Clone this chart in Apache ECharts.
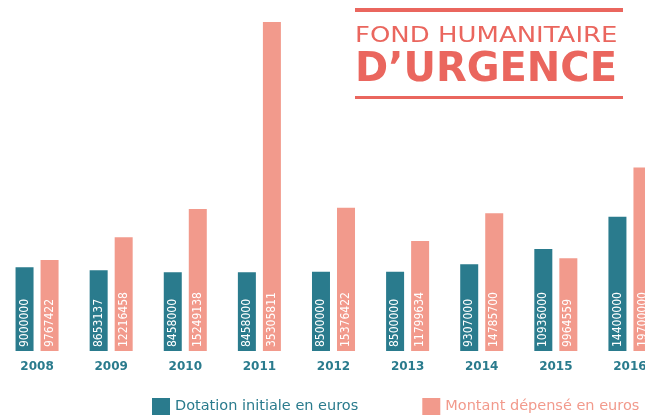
<!DOCTYPE html>
<html><head><meta charset="utf-8">
<script src="https://cdn.jsdelivr.net/npm/echarts@6/dist/echarts.min.js"></script>
<style>html,body{margin:0;padding:0;background:#fff;overflow:hidden}#c{width:667px;height:417px}</style>
</head><body><div id="c"></div>
<script>
const years = ['2008','2009','2010','2011','2012','2013','2014','2015','2016'];
const dotation = [9000000, 8653137, 8458000, 8458000, 8500000, 8500000, 9307000, 10936000, 14400000];
const depense = [9767422, 12216458, 15249138, 35305811, 15376422, 11799634, 14785700, 9964559, 19700000];
const seriesNames = ['Dotation initiale en euros', 'Montant dépensé en euros'];
const TEAL = '#2a7b8d', SALMON = '#f29a8c', RED = '#ea665e';

const chart = echarts.init(document.getElementById('c'), null, {renderer:'canvas'});
const lbl = {show:true, position:'insideBottom', rotate:90, align:'left', verticalAlign:'middle', distance:4,
  color:'#fff', fontSize:12, fontFamily:'DejaVu Sans Condensed, DejaVu Sans', formatter: p => String(p.value)};
chart.setOption({
  animation:false,
  grid:{left:0, right:0, top:22, bottom:66, containLabel:false},
  xAxis:{type:'category', data:years, axisLine:{show:false}, axisTick:{show:false},
    axisLabel:{color:TEAL, fontSize:12, fontWeight:'bold', fontFamily:'DejaVu Sans', margin:10, interval:0}},
  yAxis:{type:'value', min:0, max:35305811, show:false, splitLine:{show:false}},
  legend:{left:147, top:393, itemWidth:18, itemHeight:17, itemGap:64, icon:'rect',
    data:[{name:seriesNames[0], textStyle:{color:TEAL}}, {name:seriesNames[1], textStyle:{color:SALMON}}],
    textStyle:{fontSize:14.5, fontFamily:'DejaVu Sans'}},
  series:[
    {name:seriesNames[0], type:'bar', data:dotation, barWidth:18, barGap:'39%', itemStyle:{color:TEAL}, label:lbl},
    {name:seriesNames[1], type:'bar', data:depense, barWidth:18, itemStyle:{color:SALMON}, label:lbl}
  ],
  graphic:[
    {type:'rect', shape:{x:355, y:8, width:268, height:4}, style:{fill:RED}},
    {type:'rect', shape:{x:355, y:96, width:268, height:3}, style:{fill:RED}},
    {type:'text', x:355, y:25, scaleX:1.18, style:{text:'FOND HUMANITAIRE', fill:RED, font:'22px "DejaVu Sans"', textVerticalAlign:'top'}},
    {type:'text', x:355, y:51, style:{text:'D\u2019URGENCE', fill:RED, font:'bold 40px "DejaVu Sans"', textVerticalAlign:'top'}}
  ]
});
</script></body></html>
